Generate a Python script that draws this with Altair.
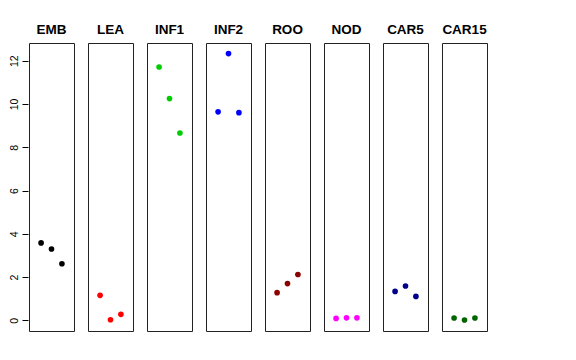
import altair as alt
import pandas as pd

tissues = ["EMB", "LEA", "INF1", "INF2", "ROO", "NOD", "CAR5", "CAR15"]
colors = ["#000000", "#FF0000", "#00CD00", "#0000FF", "#8B0000", "#FF00FF", "#00008B", "#006400"]
rep1 = [3.58, 1.16, 11.71, 9.64, 1.28, 0.09, 1.34, 0.11]
rep2 = [3.30, 0.03, 10.25, 12.33, 1.70, 0.12, 1.59, 0.02]
rep3 = [2.62, 0.28, 8.66, 9.60, 2.12, 0.12, 1.11, 0.11]
y_ticks = [0, 2, 4, 6, 8, 10, 12]

rows = []
for i, t in enumerate(tissues):
    for j, v in enumerate([rep1[i], rep2[i], rep3[i]]):
        rows.append({"tissue": t, "idx": j + 1, "value": v})
df = pd.DataFrame(rows)

base = alt.Chart(df).mark_circle(size=32, opacity=1).encode(
    x=alt.X("idx:Q", scale=alt.Scale(domain=[-0.16, 4.16], nice=False, zero=False), axis=None),
    y=alt.Y("value:Q",
            scale=alt.Scale(domain=[-0.49, 12.82], nice=False, zero=False),
            axis=alt.Axis(values=y_ticks, title=None, grid=False, domain=False,
                          tickSize=6, tickColor="black", tickWidth=1,
                          labelAngle=270, labelAlign="center", labelBaseline="bottom",
                          labelPadding=3, labelFont="Liberation Sans", labelFontSize=10.5,
                          labelColor="black")),
    color=alt.Color("tissue:N", scale=alt.Scale(domain=tissues, range=colors), legend=None),
).properties(width=45, height=288)

chart = base.facet(
    column=alt.Column("tissue:N", sort=tissues,
                      header=alt.Header(title=None, labelFont="Liberation Sans", labelFontSize=13.5,
                                        labelFontWeight="bold", labelColor="black",
                                        labelPadding=6)),
    spacing=12,
).properties(
    padding={"left": 0, "top": 14, "right": 5, "bottom": 5}
).configure(
    background="white",
    view=alt.ViewConfig(stroke="#222222", strokeWidth=1),
)

chart.save("out.html", embed_options={"renderer": "svg", "actions": False})
